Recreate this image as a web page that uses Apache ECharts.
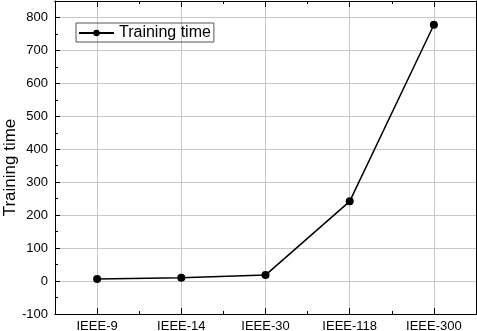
<!DOCTYPE html>
<html>
<head>
<meta charset="utf-8">
<script src="https://cdn.jsdelivr.net/npm/echarts@6/dist/echarts.min.js"></script>
<style>
  html, body { margin: 0; padding: 0; background: #fff; }
  #chart { width: 477px; height: 331px; }
</style>
</head>
<body>
<div id="chart"></div>
<script>
const categories = ['IEEE-9', 'IEEE-14', 'IEEE-30', 'IEEE-118', 'IEEE-300']
const trainingTime = [6, 10, 18, 242, 778]
const seriesName = 'Training time'

const font = 'Liberation Sans'
const chart = echarts.init(document.getElementById('chart'))

// shared bits for the frame axes
function xFrame (position, aligned, len, showLabel) {
  return {
    type: 'category',
    data: categories,
    position: position,
    boundaryGap: true,
    axisLine: { show: true, onZero: false, lineStyle: { color: '#000', width: 1 } },
    axisTick: { show: true, inside: true, alignWithLabel: aligned, length: len, lineStyle: { color: '#000' } },
    axisLabel: { show: showLabel, color: '#000', fontFamily: font, fontSize: 13, margin: 6 },
    splitLine: { show: false }
  }
}

// half-step axis, only used to put vertical grid lines through the category centres
const halfSteps = []
categories.forEach(function (c) { halfSteps.push(c + 'a', c + 'b') })
const xGridAxis = {
  type: 'category',
  data: halfSteps,
  position: 'bottom',
  boundaryGap: true,
  axisLine: { show: false, onZero: false },
  axisTick: { show: false },
  axisLabel: { show: false },
  splitLine: {
    show: true,
    interval: function (index) { return index % 2 === 1 },
    lineStyle: { color: '#c8c8c8' }
  }
}

function yFrame (position, showLabel) {
  return {
    type: 'value',
    position: position,
    min: -100,
    max: 850,
    interval: 100,
    axisLine: { show: true, onZero: false, lineStyle: { color: '#000', width: 1 } },
    axisTick: { show: true, inside: true, length: 5, lineStyle: { color: '#000' } },
    minorTick: { show: true, splitNumber: 2, length: 3, lineStyle: { color: '#000' } },
    axisLabel: {
      show: showLabel, color: '#000', fontFamily: font, fontSize: 13, margin: 7,
      showMaxLabel: false
    },
    splitLine: { show: showLabel, lineStyle: { color: '#c8c8c8' } }
  }
}

const yMain = yFrame('left', true)
yMain.name = 'Training time'
yMain.nameLocation = 'middle'
yMain.nameGap = 36
yMain.nameMoveOverlap = false
// right padding nudges the rotated title a little down, as in the source figure
yMain.nameTextStyle = { color: '#000', fontFamily: font, fontSize: 17, padding: [0, 20, 0, 0] }

const ySide = yFrame('right', false)
ySide.axisTick.length = -5
ySide.minorTick.length = -3

chart.setOption({
  animation: false,
  grid: { left: 55, right: 1, top: 1, bottom: 17, outerBoundsMode: 'none' },
  legend: {
    left: 76,
    top: 23,
    orient: 'vertical',
    borderColor: '#555',
    borderWidth: 1,
    borderRadius: 0,
    padding: [2, 3, 1, 2],
    itemWidth: 35,
    itemHeight: 8,
    itemGap: 4,
    textStyle: { color: '#000', fontFamily: font, fontSize: 16 },
    data: [seriesName]
  },
  xAxis: [
    xFrame('bottom', true, 6, true),
    xFrame('bottom', false, 3, false),
    xFrame('top', true, 6, false),
    xFrame('top', false, 3, false),
    xGridAxis
  ],
  yAxis: [yMain, ySide],
  series: [{
    name: seriesName,
    type: 'line',
    xAxisIndex: 0,
    yAxisIndex: 0,
    data: trainingTime,
    symbol: 'circle',
    symbolSize: 8,
    itemStyle: { color: '#000' },
    lineStyle: { color: '#000', width: 1.5 }
  }]
})
</script>
</body>
</html>
